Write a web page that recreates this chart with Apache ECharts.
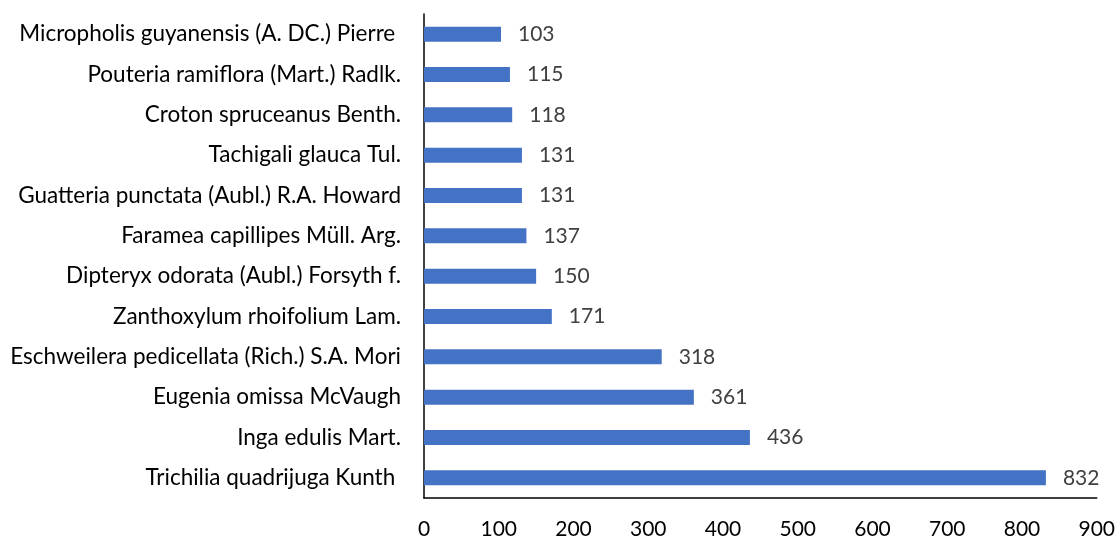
<!DOCTYPE html>
<html><head><meta charset="utf-8">
<script src="https://cdn.jsdelivr.net/npm/echarts@6/dist/echarts.min.js"></script>
<style>html,body{margin:0;padding:0;background:#fff}#c{width:1118px;height:540px}</style>
</head><body><div id="c"></div>
<script>
const species = [
  "Micropholis guyanensis (A. DC.) Pierre ",
  "Pouteria ramiflora (Mart.) Radlk.",
  "Croton spruceanus Benth.",
  "Tachigali glauca Tul.",
  "Guatteria punctata (Aubl.) R.A. Howard",
  "Faramea capillipes Müll. Arg.",
  "Dipteryx odorata (Aubl.) Forsyth f.",
  "Zanthoxylum rhoifolium Lam.",
  "Eschweilera pedicellata (Rich.) S.A. Mori",
  "Eugenia omissa McVaugh",
  "Inga edulis Mart.",
  "Trichilia quadrijuga Kunth "
];
const counts = [103, 115, 118, 131, 131, 137, 150, 171, 318, 361, 436, 832];
const xTicks = [0, 100, 200, 300, 400, 500, 600, 700, 800, 900];

const chart = echarts.init(document.getElementById('c'));
const FONT = 'Lato';
chart.setOption({
  animation: false,
  grid: {left: 424, right: 21, top: 14, bottom: 41, containLabel: false},
  xAxis: {
    type: 'value', min: xTicks[0], max: xTicks[xTicks.length-1], interval: 100,
    axisLine: {show: true, lineStyle: {color: '#000', width: 1.5}},
    axisTick: {show: false},
    splitLine: {show: false},
    axisLabel: {color: '#000', fontSize: 21, fontFamily: FONT, margin: 21}
  },
  yAxis: {
    type: 'category', data: species, inverse: true,
    axisLine: {show: true, lineStyle: {color: '#000', width: 1.5}},
    axisTick: {show: false},
    axisLabel: {color: '#000', fontSize: 22.5, fontFamily: FONT, margin: 23}
  },
  series: [{
    type: 'bar', data: counts, barWidth: 15,
    itemStyle: {color: '#4472C4'},
    label: {show: true, position: 'right', distance: 17, color: '#404040', fontSize: 21, fontFamily: FONT}
  }]
});
</script></body></html>
